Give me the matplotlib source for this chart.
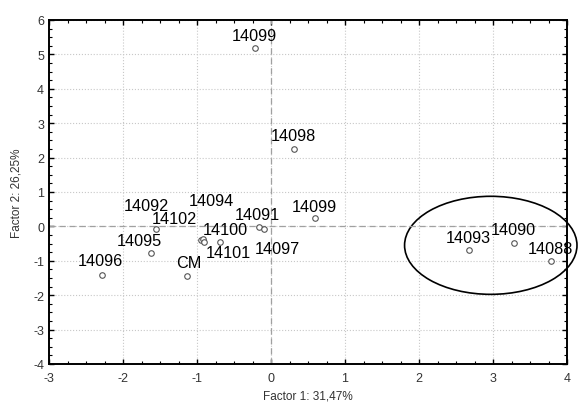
import numpy as np
import matplotlib
matplotlib.use("Agg")
import matplotlib.pyplot as plt
from matplotlib.patches import Ellipse
from matplotlib.ticker import MultipleLocator

plt.rcParams['font.family'] = ['Liberation Sans', 'DejaVu Sans']
plt.rcParams['axes.unicode_minus'] = False

# sample scores on the first two factors
pt_x = [-0.22, 0.31, 0.60, -0.16, -0.09, -1.55, -1.62, -2.28, -1.13,
        -0.95, -0.92, -0.90, -0.69, 2.68, 3.28, 3.78]
pt_y = [5.19, 2.25, 0.24, -0.01, -0.07, -0.07, -0.77, -1.41, -1.43,
        -0.40, -0.37, -0.45, -0.45, -0.70, -0.47, -1.01]

# label texts and where they sit
labels = ["14099", "14098", "14099", "14091", "14097", "14100", "14101",
          "14094", "14092", "14102", "14095", "14096", "CM",
          "14093", "14090", "14088"]
lab_x = [-0.22, 0.30, 0.59, -0.19, 0.09, -0.62, -0.58, -0.81, -1.69,
         -1.31, -1.78, -2.30, -1.11, 2.66, 3.27, 3.77]
lab_y = [5.56, 2.65, 0.59, 0.36, -0.63, -0.08, -0.77, 0.74, 0.62,
         0.24, -0.40, -1.00, -1.06, -0.31, -0.10, -0.63]

x_label = "Factor 1: 31,47%"
y_label = "Factor 2: 26,25%"

fig = plt.figure(figsize=(5.79, 4.10), dpi=100)
ax = fig.add_axes([49 / 579, 45 / 410, 518 / 579, 344 / 410])

ax.set_xlim(-3, 4)
ax.set_ylim(-4, 6)

# grid and zero lines
ax.grid(True, which='major', linestyle=':', color='#c8c8c8', linewidth=0.8)
ax.axhline(0, color='#a0a0a0', linestyle='--', linewidth=0.9, dashes=(5, 3))
ax.axvline(0, color='#a0a0a0', linestyle='--', linewidth=0.9, dashes=(5, 3))
ax.set_axisbelow(True)

ax.scatter(pt_x, pt_y, s=16, facecolors='white', edgecolors='#555555',
           linewidths=0.8, zorder=3)

for t, x, y in zip(labels, lab_x, lab_y):
    ax.text(x, y, t, fontsize=11.7, ha='center', va='center', color='black')

ell = Ellipse((2.97, -0.55), 2.33, 2.85, fill=False, edgecolor='black',
              linewidth=1.2, clip_on=False)
ax.add_patch(ell)

ax.xaxis.set_major_locator(MultipleLocator(1))
ax.yaxis.set_major_locator(MultipleLocator(1))
ax.xaxis.set_minor_locator(MultipleLocator(0.25))
ax.yaxis.set_minor_locator(MultipleLocator(0.25))
ax.tick_params(which='both', direction='in', top=True, right=True,
               color='black', labelsize=9, labelcolor='#333333')
ax.tick_params(which='major', length=3.5, width=1)
ax.tick_params(which='minor', length=2, width=0.8)
ax.tick_params(axis='x', pad=6)

for sp in ax.spines.values():
    sp.set_linewidth(1.4)

ax.set_xlabel(x_label, fontsize=8.5, color='#333333', labelpad=4)
ax.set_ylabel(y_label, fontsize=8.5, color='#333333', labelpad=8)

fig.savefig("out.png", dpi=100)
